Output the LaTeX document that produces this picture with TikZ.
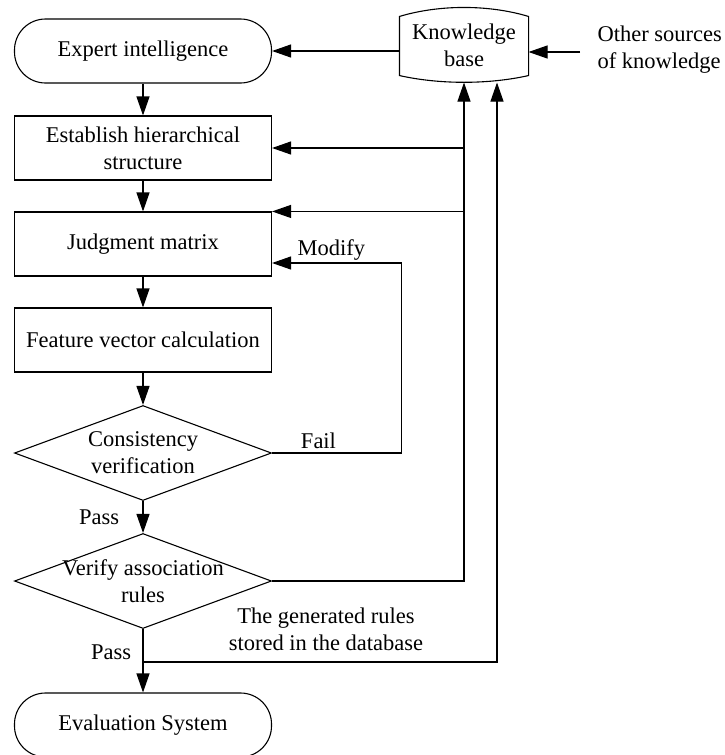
\documentclass[tikz,border=0pt]{standalone}
\usepackage{fontspec}
\setmainfont{Liberation Serif}
\usetikzlibrary{arrows.meta,shapes.geometric}

\newcommand{\zw}[1]{\makebox[0pt]{#1}}

\begin{document}
\begin{tikzpicture}[x=1pt,y=-1pt,line width=1.1pt,
		font=\fontsize{22.5}{27}\selectfont,
		term/.style={draw,rectangle,rounded corners=31pt,minimum width=257pt,minimum height=64pt},
		proc/.style={draw,rectangle,minimum width=257pt,minimum height=64pt,align=center},
		decis/.style={draw,diamond,aspect=2.7,minimum width=257pt,minimum height=95pt,inner sep=0pt,align=center},
		kbase/.style={minimum width=128pt,minimum height=74pt,align=center,inner sep=0pt},
		arr/.style={-{Triangle[length=19pt,width=13pt]}}]
				\useasboundingbox (0,0) rectangle (724,755);
				\node [term] (expert) at (143,51) {Expert intelligence};
				\node [proc] (estab) at (143,148) {Establish hierarchical\\structure};
				\node [proc] (judg) at (143,244) {Judgment matrix};
				\node [proc] (feat) at (143,340) {Feature vector calculation};
				\node [decis] (cons) at (143,453) {\zw{Consistency}\\\zw{verification}};
				\node [decis] (verif) at (143,581) {\zw{Verify association}\\\zw{rules}};
				\node [term] (eval) at (143,725) {Evaluation System};
				\node [kbase] (kb) at (464,45) {Knowledge\\base};
				\node [anchor=west,align=left,inner sep=0pt] (other) at (597,50) {Other sources\\of knowledge};
				\node [align=center,inner sep=0pt] (gen) at (326,629) {The generated rules\\stored in the database};
				\coordinate (src) at (580,52);
				\coordinate (store) at (143,662);
				\draw ([yshift=-9pt]kb.north west) .. controls +(40,-12) and +(-40,-12) .. ([yshift=-9pt]kb.north east) -- ([yshift=7pt]kb.south east) .. controls +(-40,9) and +(40,9) .. ([yshift=7pt]kb.south west) -- cycle;
				\draw [arr] (expert) -- (estab);
				\draw [arr] (estab) -- (judg);
				\draw [arr] (judg) -- (feat);
				\draw [arr] (feat) -- (cons);
				\draw [arr] (cons) -- node [midway,left=20pt] {Pass} (verif);
				\draw [arr] (verif) -- node [pos=0.36,left=8pt] {Pass} (eval);
				\draw [arr] (kb.west |- expert) -- (expert);
				\draw [arr] (src) -- (src -| kb.east);
				\draw [arr] (verif.east) -| (kb.south);
				\draw [arr] (estab.east -| kb.south) -- (estab.east);
				\draw [arr] (judg.north east -| kb.south) -- (judg.north east);
				\draw [arr] (store) -| ([xshift=33pt]kb.south);
				\draw [arr] (cons.east) -- node [pos=0.36,above] {Fail} ++(129,0) |- node [pos=0.77,above=-1pt] {Modify} ([yshift=-19pt]judg.east);
\end{tikzpicture}
\end{document}
